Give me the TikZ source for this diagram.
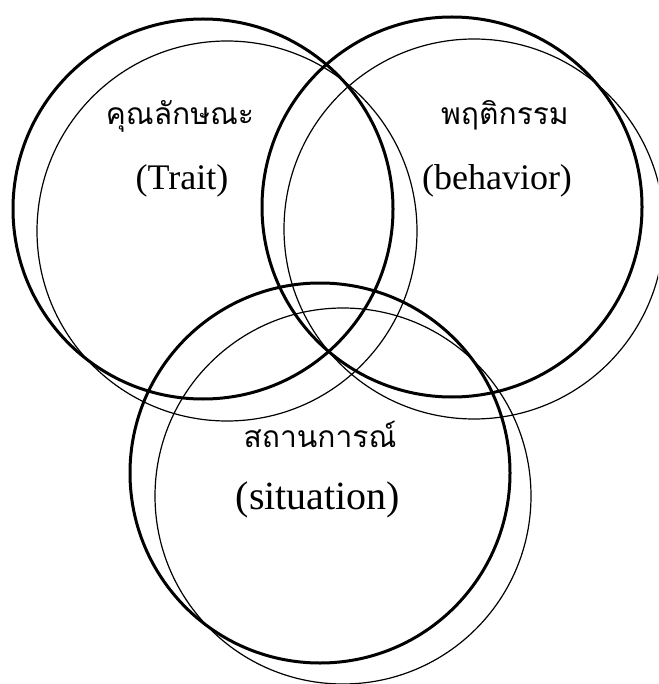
\documentclass[tikz,border=0pt]{standalone}
\usepackage{fontspec}
\setmainfont{Liberation Serif}
\newfontfamily\thaifont[Script=Thai]{Loma}
\begin{document}
\begin{tikzpicture}[x=1pt,y=-1pt,
  thickring/.style={line width=3pt, draw=black},
  thinring/.style={line width=1.2pt, draw=black},
  lbl/.style={inner sep=0pt, anchor=base, text=black},
  en/.style={lbl, font=\fontsize{36}{40}\selectfont},
  enbig/.style={lbl, font=\fontsize{40}{44}\selectfont},
  th/.style={lbl, font=\thaifont\fontsize{30}{34}\selectfont}]
\useasboundingbox (0,0) rectangle (658,684);
\fill[white] (0,0) rectangle (658,684);
\begin{scope}
\clip (0,0) rectangle (658,684);
% trait
\draw[thickring] (203,209) circle[radius=190pt];
\draw[thinring] (227,231) circle[radius=190pt];
% behavior
\draw[thickring] (452,207) circle[radius=190pt];
\draw[thinring] (474,229) circle[radius=190pt];
% situation
\draw[thickring] (320,473) circle[radius=190pt];
\draw[thinring] (343,496) circle[radius=188pt];
\end{scope}
\node[th] (traitth) at (180,125) {คุณลักษณะ};
\node[en] (traiten) at (182,190) {(Trait)};
\node[th] (behth) at (505,125) {พฤติกรรม};
\node[en] (behen) at (497,190) {(behavior)};
\node[th] (sitth) at (320,447) {สถานการณ์};
\node[enbig] (siten) at (318,509) {(situation)};
\end{tikzpicture}
\end{document}
